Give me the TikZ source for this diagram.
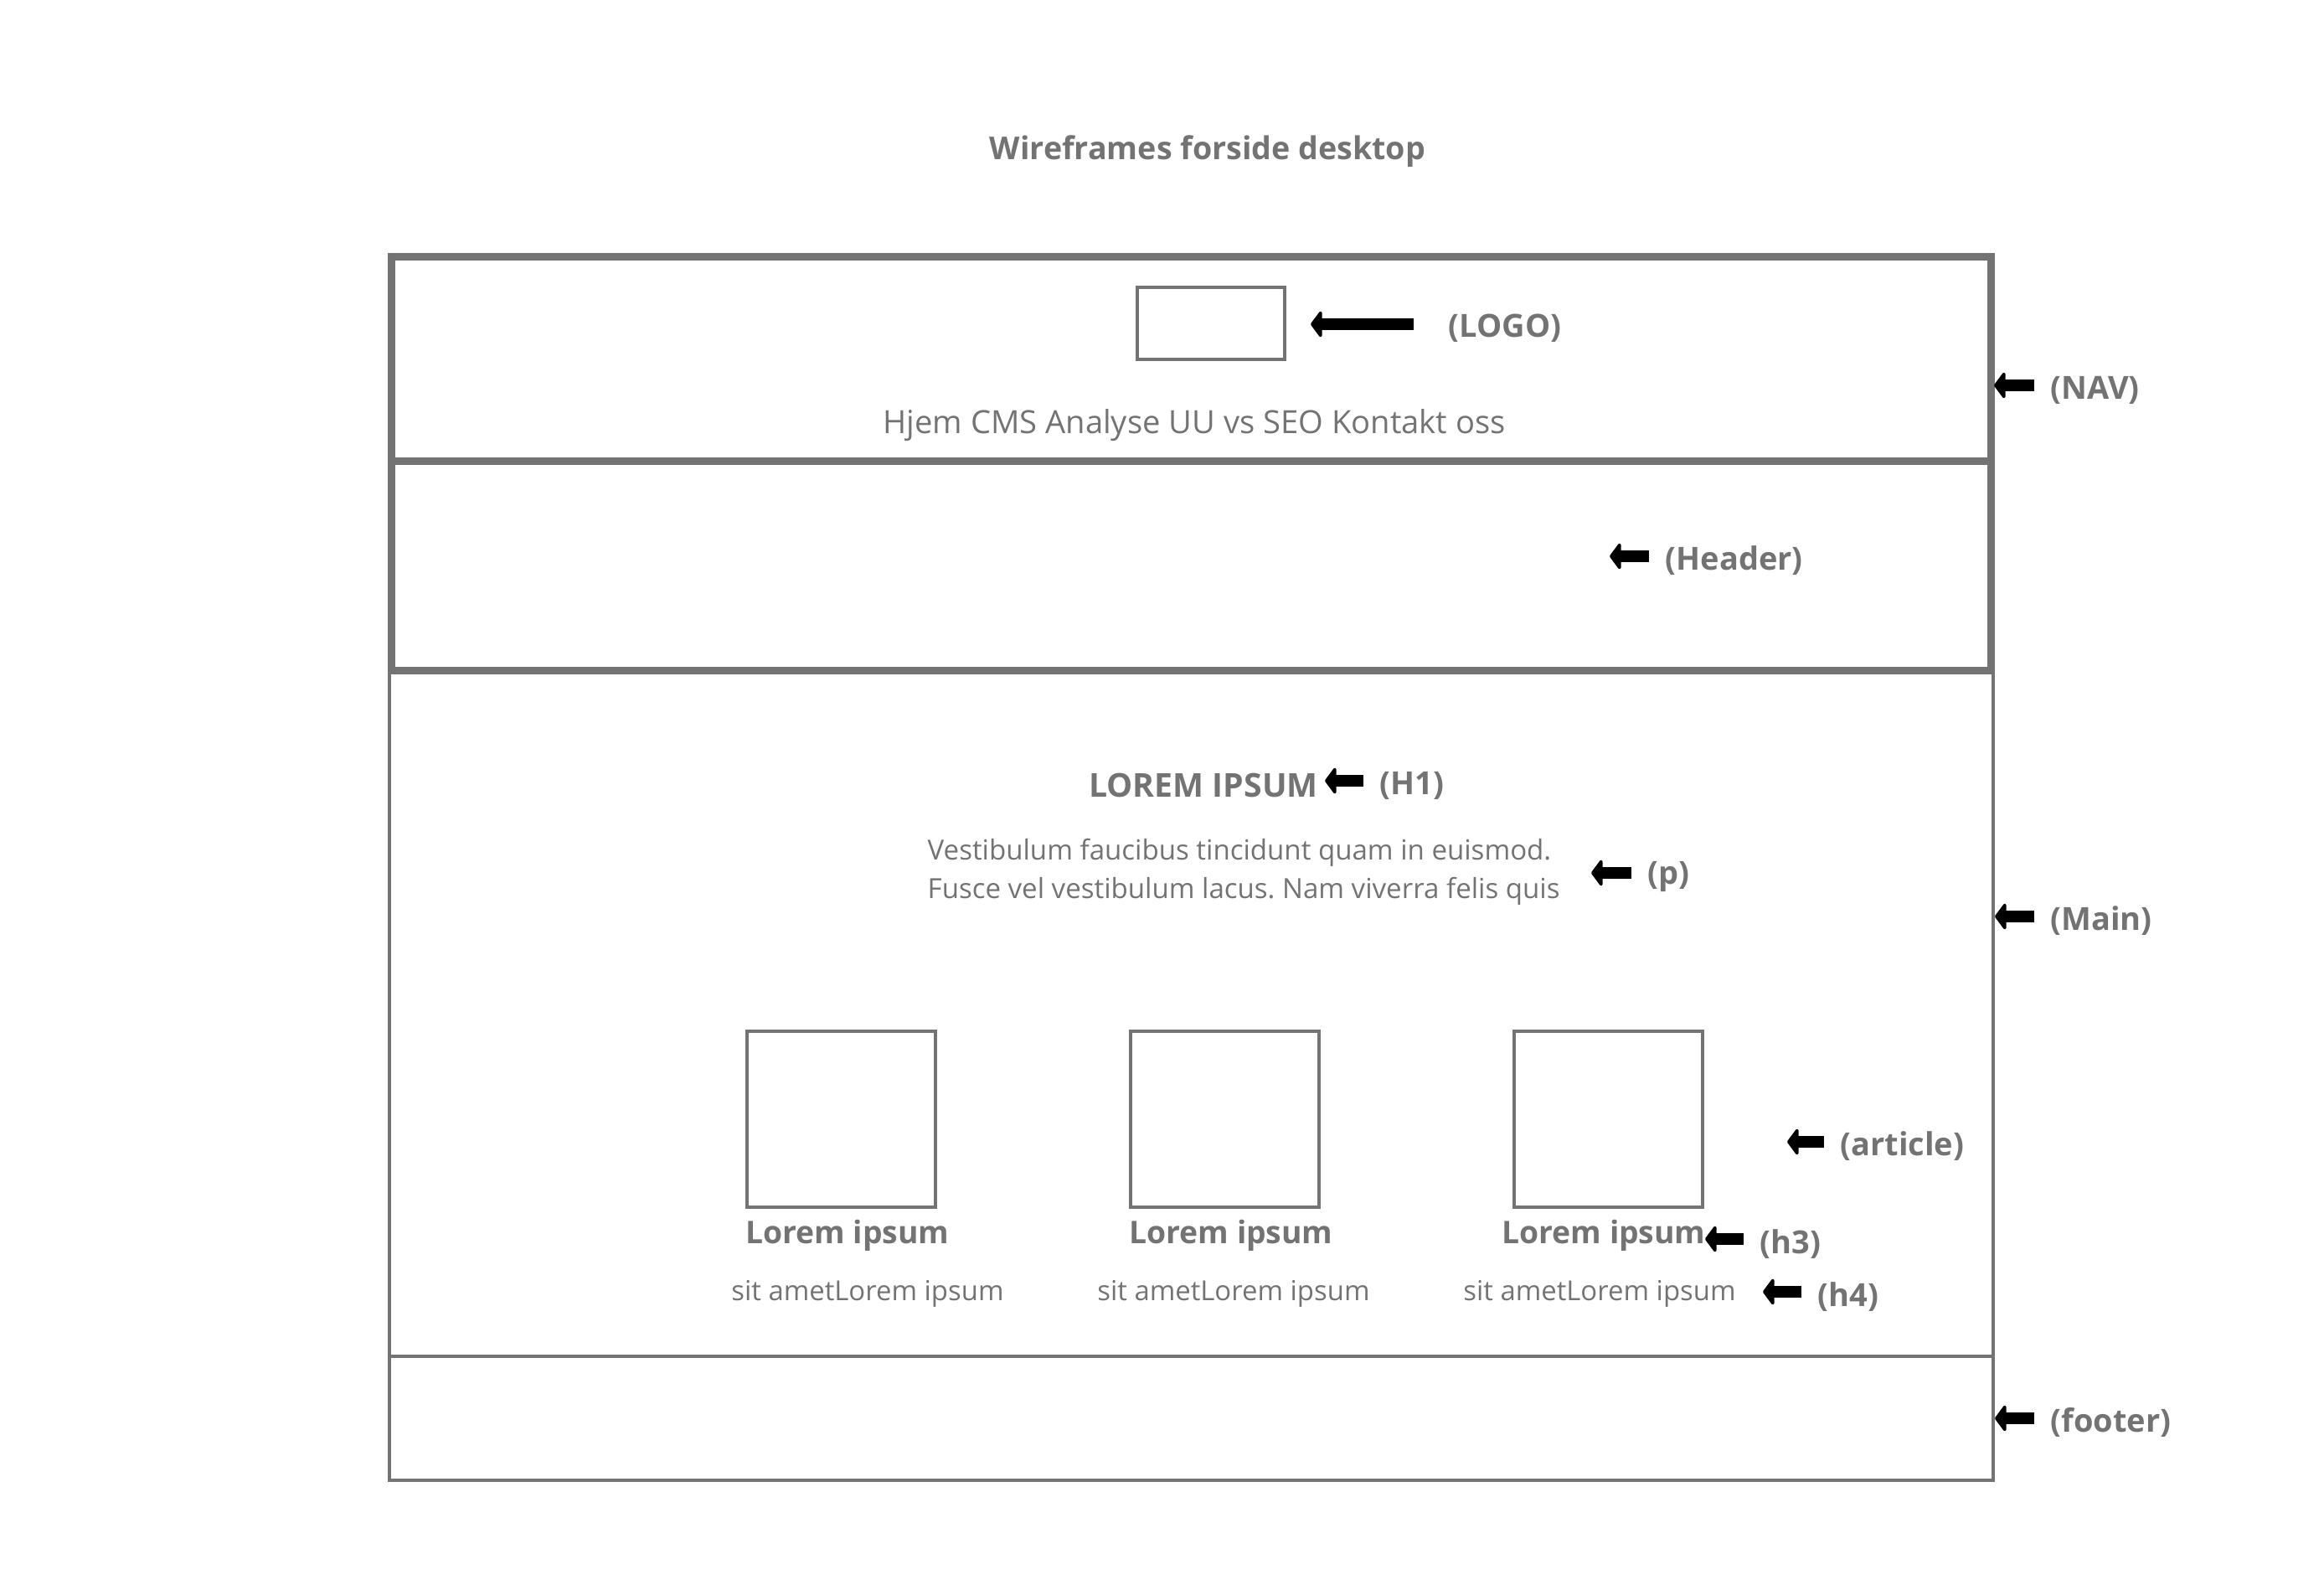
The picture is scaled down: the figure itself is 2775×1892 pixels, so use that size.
\documentclass[tikz,border=0pt]{standalone}
\usepackage{fontspec}
\setmainfont{Open Sans}
\usepackage{tikz}
\usetikzlibrary{arrows.meta}
\definecolor{wire}{RGB}{115,115,115}
\frenchspacing

\begin{document}
\begin{tikzpicture}[x=0.01cm, y=-0.01cm,
    txt/.style={text=wire, inner sep=0pt},
    lbl/.style={txt, anchor=west, font=\bfseries\fontsize{10.8}{13}\selectfont},
    pointer/.style={line width=0.14cm, -{Triangle[length=0.14cm, width=0.37cm, round]}, shorten <=0.19cm},
    thickbox/.style={draw=wire, line width=0.09cm},
    thinbox/.style={draw=wire, line width=0.045cm}]
    \useasboundingbox (0,0) rectangle (2775,1892);

    % Title
    \node[txt, font=\bfseries\fontsize{10.7}{13}\selectfont] (title) at (1442,181) {Wireframes forside desktop};

    % Page frame: main and footer (thin), nav and header (thick)
    \draw[thinbox] (465,801) rectangle (2380,1619);
    \draw[thinbox] (465,1619) rectangle (2380,1767);
    \draw[thickbox] (467,307) rectangle (2377,551);
    \draw[thickbox] (467,551) rectangle (2377,801);

    % Nav content
    \node[thinbox, minimum width=1.76cm, minimum height=0.86cm, inner sep=0pt] (logo) at (1446,386) {};
    \node[txt, font=\fontsize{10.85}{13}\selectfont] (menu) at (1426,508) {Hjem CMS Analyse UU vs SEO Kontakt oss};

    % Main content
    \node[txt, font=\bfseries\fontsize{11.15}{13}\selectfont] (hOne) at (1437,937) {LOREM IPSUM};
    \node[txt, anchor=west, align=left, font=\fontsize{9.4}{13.1}\selectfont] (para) at (1107,1041)
        {Vestibulum faucibus tincidunt quam in euismod.\\Fusce vel vestibulum lacus. Nam viverra felis quis};

    % Articles
    \foreach \bx/\hx/\sx [count=\i] in {892/1012/1036, 1350/1470/1473, 1808/1915/1910} {
        \draw[thinbox] (\bx,1231) rectangle (\bx+225,1441);
        \node[txt, font=\bfseries\fontsize{10.6}{13}\selectfont] (hThree\i) at (\hx,1475) {Lorem ipsum};
        \node[txt, font=\fontsize{9.35}{11}\selectfont] (hFour\i) at (\sx,1544) {sit ametLorem ipsum};
    }

    % Labels with arrows
    \coordinate (logoTip) at (1565,387);
    \coordinate (navTip) at (2381,460);
    \coordinate (headerTip) at (1922,664);
    \coordinate (hOneTip) at (1582,932);
    \coordinate (pTip) at (1900,1042);
    \coordinate (mainTip) at (2382,1094);
    \coordinate (articleTip) at (2134,1363);
    \coordinate (hThreeTip) at (2036,1479);
    \coordinate (hFourTip) at (2105,1542);
    \coordinate (footerTip) at (2382,1693);

    \node[lbl] (logoLbl) at (1729,392) {(LOGO)};
    \node[lbl] (navLbl) at (2448,466) {(NAV)};
    \node[lbl] (headerLbl) at (1988,669) {(Header)};
    \node[lbl] (hOneLbl) at (1647,938) {(H1)};
    \node[lbl] (pLbl) at (1967,1047) {(p)};
    \node[lbl] (mainLbl) at (2448,1099) {(Main)};
    \node[lbl] (articleLbl) at (2197,1368) {(article)};
    \node[lbl] (hThreeLbl) at (2101,1485) {(h3)};
    \node[lbl] (hFourLbl) at (2170,1548) {(h4)};
    \node[lbl] (footerLbl) at (2448,1698) {(footer)};

    \draw[pointer, shorten <=0.41cm] (logoLbl.west |- logoTip) -- (logoTip);
    \foreach \n in {nav,header,hOne,p,main,article,hThree,hFour,footer} {
        \draw[pointer] (\n Lbl.west |- \n Tip) -- (\n Tip);
    }
\end{tikzpicture}
\end{document}
